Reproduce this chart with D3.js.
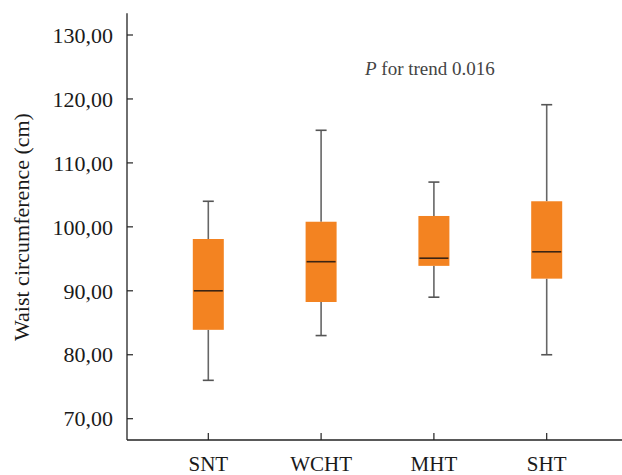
<!DOCTYPE html>
<html><head><meta charset="utf-8">
<script src="https://cdn.jsdelivr.net/npm/d3@7"></script>
<style>body{margin:0;background:#fff}</style>
</head><body>
<svg id="c" width="622" height="475"></svg>
<script>
const categories = ["SNT","WCHT","MHT","SHT"];
const whiskerLow  = [76.0, 83.0, 89.0, 80.0];
const q1          = [83.9, 88.25, 93.9, 91.9];
const medians     = [90.0, 94.55, 95.1, 96.1];
const q3          = [98.1, 100.8, 101.7, 104.0];
const whiskerHigh = [104.0, 115.1, 107.0, 119.1];
const yTicks = [70,80,90,100,110,120,130];

const svg = d3.select("#c");
const font = "'Liberation Serif','Times New Roman',serif";
const y = d3.scaleLinear().domain([70,130]).range([418.7,35]);
const x = d3.scalePoint().domain(categories).range([208.3,546.7]);
const axisLeft = 127, axisBottom = 440;

svg.append("line").attr("x1",axisLeft).attr("x2",axisLeft).attr("y1",y(133.4)).attr("y2",axisBottom)
  .attr("stroke","#222").attr("stroke-width",1.3);
svg.append("line").attr("x1",axisLeft).attr("x2",622).attr("y1",axisBottom).attr("y2",axisBottom)
  .attr("stroke","#222").attr("stroke-width",1.3);

const yt = svg.append("g");
yTicks.forEach(t=>{
  yt.append("line").attr("x1",axisLeft).attr("x2",axisLeft+6).attr("y1",y(t)).attr("y2",y(t)).attr("stroke","#222").attr("stroke-width",1.2);
  yt.append("text").attr("x",113).attr("y",y(t)).attr("dy","0.35em").attr("text-anchor","end")
    .attr("font-family",font).attr("font-size",22).attr("fill","#1a1a1a").text(d3.format(".2f")(t).replace(".",","));
});
categories.forEach(c=>{
  svg.append("line").attr("x1",x(c)).attr("x2",x(c)).attr("y1",axisBottom).attr("y2",axisBottom-7).attr("stroke","#222").attr("stroke-width",1.2);
  svg.append("text").attr("x",x(c)).attr("y",471).attr("text-anchor","middle")
    .attr("font-family",font).attr("font-size",21).attr("fill","#1a1a1a").text(c);
});
svg.append("text").attr("transform","translate(29,227) rotate(-90)").attr("text-anchor","middle")
  .attr("font-family",font).attr("font-size",22).attr("fill","#1a1a1a").text("Waist circumference (cm)");

const bw = 31, cw = 11;
const g = svg.append("g");
categories.forEach((c,i)=>{
  const cx = x(c);
  g.append("line").attr("x1",cx).attr("x2",cx).attr("y1",y(whiskerHigh[i])).attr("y2",y(q3[i])).attr("stroke","#666").attr("stroke-width",1.6);
  g.append("line").attr("x1",cx).attr("x2",cx).attr("y1",y(q1[i])).attr("y2",y(whiskerLow[i])).attr("stroke","#666").attr("stroke-width",1.6);
  [whiskerHigh[i],whiskerLow[i]].forEach(v=>{
    g.append("line").attr("x1",cx-cw/2).attr("x2",cx+cw/2).attr("y1",y(v)).attr("y2",y(v)).attr("stroke","#555").attr("stroke-width",1.6);
  });
  g.append("rect").attr("x",cx-bw/2).attr("width",bw).attr("y",y(q3[i])).attr("height",y(q1[i])-y(q3[i])).attr("fill","#F38321");
  g.append("line").attr("x1",cx-bw/2+1).attr("x2",cx+bw/2-1).attr("y1",y(medians[i])).attr("y2",y(medians[i])).attr("stroke","#3b2414").attr("stroke-width",1.6);
});

const ann = svg.append("text").attr("x",365).attr("y",75).attr("font-family",font).attr("font-size",19).attr("fill","#444");
ann.append("tspan").attr("font-style","italic").text("P");
ann.append("tspan").text(" for trend 0.016");
</script>
</body></html>
